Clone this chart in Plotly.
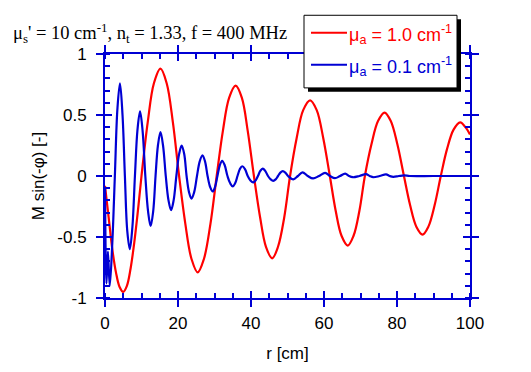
import plotly.graph_objects as go

# ---------------- data ----------------
red_r = [0, 1, 2, 3, 4, 5, 6, 7, 8, 9, 10,
         11.7, 13.4, 15.2, 16.9, 18.6, 20.3,
         22.0, 23.7, 25.4, 27.1, 28.9, 30.6,
         32.3, 34.0, 35.8, 37.5, 39.1, 40.8,
         42.5, 44.1, 45.8, 47.4, 49.1, 50.7,
         52.5, 54.3, 56.2, 58.0, 59.8, 61.6,
         63.2, 64.8, 66.5, 68.1, 69.7, 71.2,
         73.0, 74.8, 76.6, 78.3, 80.1, 81.9,
         83.6, 85.3, 87.0, 88.6, 90.3, 92.0,
         93.7, 95.5, 97.3, 99.0, 100]
red_v = [-0.08, -0.34, -0.60, -0.79, -0.91, -0.95, -0.90, -0.76, -0.55, -0.29, 0.0,
         0.44, 0.76, 0.88, 0.76, 0.44, 0.0,
         -0.39, -0.68, -0.79, -0.68, -0.39, 0.0,
         0.37, 0.64, 0.74, 0.64, 0.37, 0.0,
         -0.34, -0.58, -0.675, -0.58, -0.34, 0.0,
         0.31, 0.54, 0.62, 0.54, 0.31, 0.0,
         -0.285, -0.49, -0.57, -0.49, -0.285, 0.0,
         0.26, 0.45, 0.52, 0.45, 0.26, 0.0,
         -0.24, -0.415, -0.48, -0.415, -0.24, 0.0,
         0.22, 0.38, 0.44, 0.39, 0.34]

blue_r = [0, 0.4, 0.8, 1.3, 2.0, 2.7, 3.4, 4.1, 4.8, 5.45,
          6.1, 6.8, 7.5, 8.2, 8.9, 9.6, 10.3, 11.05,
          11.8, 12.5, 13.2, 13.85, 14.5, 15.2, 15.9, 16.65,
          17.4, 18.1, 18.8, 19.55, 20.3, 21.0, 21.7, 22.35,
          23.0, 23.7, 24.45, 25.2, 25.95, 26.7, 27.4, 28.1,
          28.8, 29.5, 30.15, 30.8, 31.45, 32.1, 32.8, 33.55,
          34.3, 35.0, 35.65, 36.3, 36.95, 37.6, 38.35, 39.1,
          39.85, 40.6, 41.25, 41.9, 42.55, 43.2, 43.9, 44.65,
          45.4, 46.1, 46.75, 47.4, 48.05, 48.7, 49.4, 50.15,
          51.6, 52.85, 54.1, 55.55, 57.0, 58.65, 60.3, 61.65,
          63.0, 64.4, 65.8, 66.85, 67.9, 69.7, 71.5, 72.5,
          73.5, 75.25, 77.0, 78.0, 79.0, 80.5, 82.0, 83.5, 90, 100]
blue_v = [-0.10, -0.88, -0.62, -0.90, -0.55, 0.0, 0.55, 0.76, 0.50, 0.0,
          -0.45, -0.60, -0.42, 0.0, 0.38, 0.53, 0.37, 0.0,
          -0.29, -0.41, -0.29, 0.0, 0.25, 0.36, 0.25, 0.0,
          -0.20, -0.28, -0.20, 0.0, 0.18, 0.25, 0.18, 0.0,
          -0.13, -0.185, -0.13, 0.0, 0.12, 0.17, 0.12, 0.0,
          -0.09, -0.127, -0.09, 0.0, 0.088, 0.125, 0.088, 0.0,
          -0.06, -0.085, -0.06, 0.0, 0.057, 0.08, 0.057, 0.0,
          -0.037, -0.053, -0.037, 0.0, 0.042, 0.06, 0.042, 0.0,
          -0.028, -0.04, -0.028, 0.0, 0.028, 0.04, 0.028, 0.0,
          -0.027, 0.0, 0.03, 0.0, -0.02, 0.0, 0.025, 0.0,
          -0.018, 0.0, 0.02, 0.0, -0.01, 0.0, 0.015, 0.0,
          -0.01, 0.0, 0.013, 0.0, -0.007, 0.0, 0.005, 0.0, 0.0, 0.0]

x_ticks = [0, 20, 40, 60, 80, 100]
x_ticktext = ["0", "20", "40", "60", "80", "100"]
y_ticks = [-1, -0.5, 0, 0.5, 1]
y_ticktext = ["-1", "-0.5", "0", "0.5", "1"]

series_names = ["μ<sub>a</sub> = 1.0 cm<sup>-1</sup>",
                "μ<sub>a</sub> = 0.1 cm<sup>-1</sup>"]
title_text = "μ<sub>s</sub>' = 10 cm<sup>-1</sup>, n<sub>t</sub> = 1.33, f = 400 MHz"
x_title = "r [cm]"
y_title = "M sin(-φ) [-]"

# ---------------- style ----------------
RED = "#ff0000"
BLUE = "#0000d4"
W, H = 531, 372
L, R, T, B = 105, 61, 54, 66
PW, PH = W - L - R, H - T - B


def px_x(p):
    return (p - L) / PW


def px_y(p):
    return (H - B - p) / PH


fig = go.Figure()
fig.add_trace(go.Scatter(x=red_r, y=red_v, mode="lines", name=series_names[0],
                         line=dict(color=RED, width=2.2, shape="spline", smoothing=1.0),
                         showlegend=False))
fig.add_trace(go.Scatter(x=blue_r, y=blue_v, mode="lines", name=series_names[1],
                         line=dict(color=BLUE, width=2.2, shape="spline", smoothing=1.0),
                         showlegend=False))
# invisible trace to activate overlay axes (for inward half of the crossing ticks)
fig.add_trace(go.Scatter(x=[None], y=[None], xaxis="x2", yaxis="y2", showlegend=False,
                         hoverinfo="skip"))

tickfont = dict(family="Liberation Sans, Arial", size=17, color="black")
common_x = dict(range=[0, 100], tickvals=x_ticks, ticktext=x_ticktext,
                linecolor=BLUE, linewidth=2, showgrid=False, zeroline=False,
                tickcolor=BLUE, tickwidth=2, ticklen=7)
common_y = dict(range=[-1, 1], tickvals=y_ticks, ticktext=y_ticktext,
                linecolor=BLUE, linewidth=2, showgrid=False, zeroline=False,
                tickcolor=BLUE, tickwidth=2, ticklen=7)

fig.update_layout(
    width=W, height=H, autosize=False,
    margin=dict(l=L, r=R, t=T, b=B),
    paper_bgcolor="white", plot_bgcolor="white",
    showlegend=False,
    title=dict(text=title_text, x=13 / W, xanchor="left", y=1 - 33 / H, yanchor="middle",
               font=dict(family="Liberation Serif, Times New Roman", size=18.5, color="black")),
    xaxis=dict(**common_x, ticks="outside", mirror="ticks", showline=True,
               tickfont=tickfont, ticklabelstandoff=2,
               title=dict(text=x_title, font=tickfont, standoff=15),
               minor=dict(ticks="inside", dtick=5, ticklen=5, tickwidth=2, tickcolor=BLUE)),
    yaxis=dict(**common_y, ticks="outside", mirror="ticks", showline=True,
               tickfont=tickfont, ticklabelstandoff=6,
               title=dict(text=y_title, font=tickfont, standoff=8),
               minor=dict(ticks="inside", dtick=0.1, ticklen=5, tickwidth=2, tickcolor=BLUE)),
    xaxis2=dict(**common_x, overlaying="x", ticks="inside", mirror="ticks",
                showline=False, showticklabels=False, matches="x"),
    yaxis2=dict(**common_y, overlaying="y", ticks="inside", mirror="ticks",
                showline=False, showticklabels=False, matches="y"),
)

# ---------------- legend box with drop shadow ----------------
bx0, bx1, by0, by1 = 304, 457, 14, 89
fig.add_shape(type="rect", xref="paper", yref="paper",
              x0=px_x(bx0 + 4), x1=px_x(bx1 + 4), y0=px_y(by1 + 4), y1=px_y(by0 + 4),
              fillcolor="black", line=dict(width=0), layer="above")
fig.add_shape(type="rect", xref="paper", yref="paper",
              x0=px_x(bx0), x1=px_x(bx1), y0=px_y(by1), y1=px_y(by0),
              fillcolor="white", line=dict(color="black", width=1), layer="above")
legend_rows = [(32, RED), (65, BLUE)]
for name, (yy, col) in zip(series_names, legend_rows):
    fig.add_shape(type="line", xref="paper", yref="paper",
                  x0=px_x(311), x1=px_x(347), y0=px_y(yy), y1=px_y(yy),
                  line=dict(color=col, width=2), layer="above")
    fig.add_annotation(xref="paper", yref="paper", x=px_x(347), y=px_y(yy + 2),
                       xanchor="left", yanchor="middle", showarrow=False,
                       text=name, font=dict(family="Liberation Sans, Arial", size=18, color=col))

fig.write_html("out.html", config={"displayModeBar": False},
               post_script="document.body.style.margin='0';document.body.style.padding='0';")
